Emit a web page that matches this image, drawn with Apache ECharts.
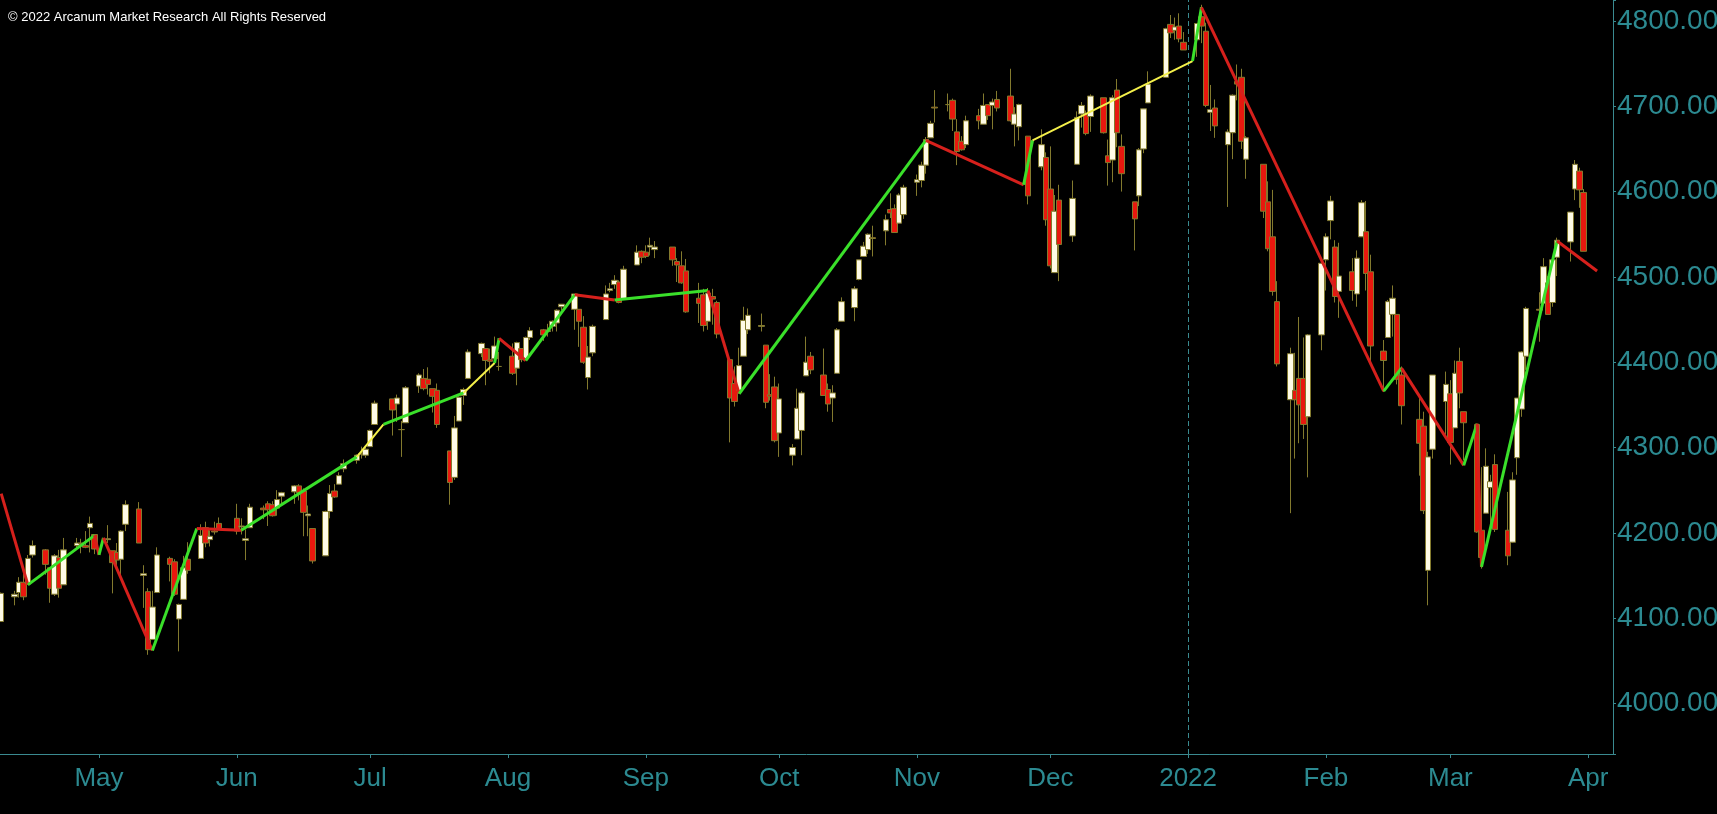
<!DOCTYPE html>
<html>
<head>
<meta charset="utf-8">
<script src="https://cdn.jsdelivr.net/npm/echarts@6/dist/echarts.min.js"></script>
<style>
  html, body { margin: 0; padding: 0; background: #000; overflow: hidden; }
  #chart { width: 1717px; height: 814px; }
</style>
</head>
<body>
<div id="chart"></div>
<script>
// daily S&P 500 candles, one row per month
var tradeDays = [
	'2021-04-09','2021-04-12','2021-04-13','2021-04-14','2021-04-15','2021-04-16','2021-04-19','2021-04-20','2021-04-21','2021-04-22','2021-04-23','2021-04-26','2021-04-27','2021-04-28','2021-04-29','2021-04-30',
	'2021-05-03','2021-05-04','2021-05-05','2021-05-06','2021-05-07','2021-05-10','2021-05-11','2021-05-12','2021-05-13','2021-05-14','2021-05-17','2021-05-18','2021-05-19','2021-05-20','2021-05-21','2021-05-24','2021-05-25','2021-05-26','2021-05-27','2021-05-28',
	'2021-06-01','2021-06-02','2021-06-03','2021-06-04','2021-06-07','2021-06-08','2021-06-09','2021-06-10','2021-06-11','2021-06-14','2021-06-15','2021-06-16','2021-06-17','2021-06-18','2021-06-21','2021-06-22','2021-06-23','2021-06-24','2021-06-25','2021-06-28','2021-06-29','2021-06-30',
	'2021-07-01','2021-07-02','2021-07-06','2021-07-07','2021-07-08','2021-07-09','2021-07-12','2021-07-13','2021-07-14','2021-07-15','2021-07-16','2021-07-19','2021-07-20','2021-07-21','2021-07-22','2021-07-23','2021-07-26','2021-07-27','2021-07-28','2021-07-29','2021-07-30',
	'2021-08-02','2021-08-03','2021-08-04','2021-08-05','2021-08-06','2021-08-09','2021-08-10','2021-08-11','2021-08-12','2021-08-13','2021-08-16','2021-08-17','2021-08-18','2021-08-19','2021-08-20','2021-08-23','2021-08-24','2021-08-25','2021-08-26','2021-08-27','2021-08-30','2021-08-31',
	'2021-09-01','2021-09-02','2021-09-03','2021-09-07','2021-09-08','2021-09-09','2021-09-10','2021-09-13','2021-09-14','2021-09-15','2021-09-16','2021-09-17','2021-09-20','2021-09-21','2021-09-22','2021-09-23','2021-09-24','2021-09-27','2021-09-28','2021-09-29','2021-09-30',
	'2021-10-01','2021-10-04','2021-10-05','2021-10-06','2021-10-07','2021-10-08','2021-10-11','2021-10-12','2021-10-13','2021-10-14','2021-10-15','2021-10-18','2021-10-19','2021-10-20','2021-10-21','2021-10-22','2021-10-25','2021-10-26','2021-10-27','2021-10-28','2021-10-29',
	'2021-11-01','2021-11-02','2021-11-03','2021-11-04','2021-11-05','2021-11-08','2021-11-09','2021-11-10','2021-11-11','2021-11-12','2021-11-15','2021-11-16','2021-11-17','2021-11-18','2021-11-19','2021-11-22','2021-11-23','2021-11-24','2021-11-26','2021-11-29','2021-11-30',
	'2021-12-01','2021-12-02','2021-12-03','2021-12-06','2021-12-07','2021-12-08','2021-12-09','2021-12-10','2021-12-13','2021-12-14','2021-12-15','2021-12-16','2021-12-17','2021-12-20','2021-12-21','2021-12-22','2021-12-23','2021-12-27','2021-12-28','2021-12-29','2021-12-30','2021-12-31',
	'2022-01-03','2022-01-04','2022-01-05','2022-01-06','2022-01-07','2022-01-10','2022-01-11','2022-01-12','2022-01-13','2022-01-14','2022-01-18','2022-01-19','2022-01-20','2022-01-21','2022-01-24','2022-01-25','2022-01-26','2022-01-27','2022-01-28','2022-01-31',
	'2022-02-01','2022-02-02','2022-02-03','2022-02-04','2022-02-07','2022-02-08','2022-02-09','2022-02-10','2022-02-11','2022-02-14','2022-02-15','2022-02-16','2022-02-17','2022-02-18','2022-02-22','2022-02-23','2022-02-24','2022-02-25','2022-02-28',
	'2022-03-01','2022-03-02','2022-03-03','2022-03-04','2022-03-07','2022-03-08','2022-03-09','2022-03-10','2022-03-11','2022-03-14','2022-03-15','2022-03-16','2022-03-17','2022-03-18','2022-03-21','2022-03-22','2022-03-23','2022-03-24','2022-03-25','2022-03-28','2022-03-29','2022-03-30','2022-03-31',
]
var opens = [
	4096,4125,4130,4142,4140,4174,4180,4159,4128,4171,4139,4185,4188,4185,4206,4198,
	4192,4179,4177,4169,4210,4228,4150,4131,4075,4130,4170,4166,4099,4122,4169,4170,4206,4192,4202,4211,
	4217,4207,4191,4206,4229,4234,4233,4229,4243,4248,4255,4249,4220,4205,4173,4225,4249,4257,4275,4285,4293,4291,
	4301,4327,4357,4351,4321,4329,4372,4381,4380,4369,4367,4296,4265,4331,4361,4381,4410,4416,4403,4404,4395,
	4407,4393,4416,4404,4429,4438,4436,4442,4446,4465,4462,4462,4441,4382,4411,4450,4484,4491,4494,4474,4514,4530,
	4529,4535,4532,4535,4518,4513,4507,4475,4479,4448,4477,4470,4403,4375,4367,4407,4438,4442,4420,4362,4371,
	4317,4291,4310,4320,4384,4407,4385,4368,4358,4387,4448,4464,4497,4524,4532,4546,4554,4579,4580,4563,4573,
	4611,4613,4631,4663,4699,4702,4707,4670,4659,4655,4689,4679,4702,4701,4708,4712,4679,4676,4665,4629,4640,
	4603,4505,4590,4548,4632,4691,4691,4688,4710,4642,4637,4719,4653,4588,4595,4650,4704,4734,4796,4789,4794,4775,
	4778,4805,4788,4693,4698,4655,4669,4729,4734,4638,4632,4588,4547,4471,4356,4367,4381,4381,4336,4432,
	4520,4566,4535,4483,4506,4480,4547,4553,4506,4413,4429,4456,4456,4385,4333,4325,4156,4298,4354,
	4363,4323,4401,4342,4327,4203,4223,4253,4280,4203,4189,4288,4345,4407,4462,4469,4493,4470,4523,4541,4603,4624,4599,
]
var highs = [
	4130,4132,4148,4152,4174,4191,4181,4159,4175,4180,4194,4194,4193,4202,4219,4198,
	4209,4179,4188,4203,4238,4236,4162,4135,4132,4183,4172,4169,4117,4173,4189,4210,4213,4203,4213,4218,
	4234,4217,4204,4234,4232,4237,4237,4250,4248,4256,4257,4252,4232,4205,4226,4256,4257,4271,4286,4292,4301,4302,
	4321,4355,4357,4362,4331,4372,4387,4392,4394,4369,4375,4296,4337,4360,4370,4415,4423,4416,4416,4430,4412,
	4422,4424,4416,4430,4441,4439,4445,4449,4462,4468,4480,4462,4454,4419,4444,4490,4493,4502,4496,4513,4537,4531,
	4537,4546,4542,4535,4522,4530,4521,4493,4486,4487,4486,4472,4403,4395,4417,4465,4463,4457,4420,4386,4383,
	4375,4304,4369,4366,4430,4412,4416,4375,4373,4440,4476,4489,4520,4541,4551,4560,4573,4598,4585,4598,4608,
	4620,4635,4664,4683,4719,4715,4709,4685,4665,4689,4697,4715,4702,4709,4718,4744,4699,4703,4665,4673,4646,
	4653,4596,4608,4613,4694,4705,4695,4714,4710,4661,4713,4732,4667,4588,4651,4697,4741,4792,4807,4804,4809,4787,
	4797,4819,4798,4725,4708,4673,4714,4749,4744,4665,4632,4612,4602,4495,4417,4411,4453,4429,4433,4517,
	4551,4595,4543,4540,4522,4531,4590,4589,4526,4426,4473,4490,4456,4395,4362,4342,4295,4385,4389,
	4379,4402,4417,4342,4327,4277,4299,4268,4292,4248,4271,4358,4413,4465,4482,4522,4501,4521,4546,4576,4637,4628,4603,
]
var lows = [
	4096,4115,4124,4121,4140,4171,4151,4118,4126,4124,4139,4182,4176,4182,4177,4175,
	4188,4129,4161,4147,4202,4188,4112,4057,4075,4130,4143,4126,4061,4122,4152,4170,4183,4184,4198,4204,
	4198,4198,4168,4206,4216,4208,4219,4220,4233,4234,4238,4196,4196,4164,4173,4217,4241,4257,4271,4281,4287,4288,
	4301,4327,4314,4330,4289,4329,4364,4367,4362,4341,4323,4233,4262,4331,4350,4381,4406,4373,4387,4404,4390,
	4385,4373,4400,4404,4426,4425,4430,4436,4436,4461,4438,4418,4398,4368,4407,4450,4482,4486,4469,4474,4514,4516,
	4522,4525,4522,4513,4494,4492,4458,4446,4436,4438,4444,4428,4306,4348,4367,4407,4433,4436,4346,4355,4306,
	4289,4279,4310,4291,4384,4386,4361,4342,4330,4387,4448,4448,4496,4524,4527,4524,4537,4569,4552,4563,4568,
	4595,4605,4621,4663,4681,4694,4671,4631,4648,4651,4673,4679,4684,4673,4694,4682,4653,4660,4585,4625,4560,
	4510,4505,4495,4541,4632,4675,4666,4670,4668,4607,4611,4652,4600,4531,4583,4645,4704,4734,4780,4778,4775,4766,
	4758,4774,4699,4671,4663,4582,4638,4707,4650,4615,4569,4530,4478,4395,4223,4287,4305,4310,4265,4414,
	4484,4544,4470,4452,4472,4465,4547,4484,4401,4365,4429,4430,4374,4327,4267,4222,4115,4287,4315,
	4280,4323,4346,4285,4200,4158,4223,4210,4201,4162,4188,4268,4336,4391,4424,4469,4456,4465,4501,4518,4590,4581,4530,
]
var closes = [
	4129,4128,4142,4125,4170,4185,4163,4135,4173,4135,4180,4188,4187,4183,4211,4181,
	4193,4165,4168,4202,4233,4188,4152,4063,4113,4174,4163,4128,4116,4159,4156,4197,4188,4196,4201,4204,
	4202,4208,4193,4230,4227,4227,4220,4239,4247,4255,4247,4224,4222,4167,4225,4246,4242,4267,4281,4291,4292,4298,
	4320,4352,4344,4358,4321,4370,4385,4369,4374,4360,4327,4259,4323,4359,4368,4412,4422,4402,4401,4419,4395,
	4387,4423,4403,4429,4437,4432,4437,4448,4461,4468,4480,4448,4400,4406,4442,4480,4486,4496,4470,4509,4529,4523,
	4524,4537,4535,4520,4514,4493,4459,4469,4443,4481,4474,4433,4358,4354,4396,4449,4455,4443,4353,4360,4308,
	4357,4300,4346,4364,4400,4391,4361,4351,4364,4438,4471,4486,4520,4536,4550,4545,4567,4575,4552,4596,4605,
	4614,4631,4661,4680,4698,4702,4685,4647,4649,4683,4683,4701,4689,4705,4698,4683,4691,4702,4595,4655,4567,
	4513,4577,4538,4592,4687,4701,4668,4712,4669,4634,4710,4669,4621,4568,4649,4697,4726,4791,4786,4793,4779,4766,
	4797,4794,4701,4696,4677,4670,4713,4726,4659,4663,4577,4533,4483,4398,4410,4356,4350,4327,4432,4516,
	4547,4589,4477,4501,4484,4522,4587,4504,4419,4402,4471,4475,4380,4349,4305,4226,4289,4385,4374,
	4306,4387,4364,4329,4201,4171,4278,4260,4204,4173,4262,4358,4412,4463,4461,4512,4456,4520,4543,4576,4632,4602,4530,
]

// swing line: turning points and the colour of each leg (r = down, g = up, y = weak up)
var swingDates = [
	'2021-04-09','2021-04-15','2021-04-30','2021-05-01','2021-05-02','2021-05-13','2021-05-23','2021-06-02',
	'2021-06-28','2021-07-04','2021-07-22','2021-07-29','2021-07-30','2021-08-05','2021-08-16','2021-08-25',
	'2021-09-15','2021-09-22','2021-11-03','2021-11-25','2021-11-27','2022-01-02','2022-01-04','2022-02-14',
	'2022-02-18','2022-03-04','2022-03-07','2022-03-08','2022-03-25','2022-04-03',
]
var swingValues = [
	4246,4139,4197,4174,4194,4062,4205,4203,
	4289,4327,4364,4399,4428,4402,4479,4473,
	4484,4363,4660,4608,4660,4753,4816,4366,
	4393,4279,4328,4160,4542,4507,
]
var swingKinds = ['r','g','r','g','r','g','r','g','y','g','y','g','r','g','r','g','r','g','r','g','y','g','r','g','r','g','r','g','r']

var monthNames = ['Jan','Feb','Mar','Apr','May','Jun','Jul','Aug','Sep','Oct','Nov','Dec']
var yearMark = '2022-01-01'

var axisTeal = '#3a8a90'
var labelTeal = '#2c8a91'

function ts(s) {
	var p = s.split('-').map(Number)
	return new Date(p[0], p[1] - 1, p[2]).getTime()
}

function drawChart() {
	var chartDom = document.getElementById('chart')
	var myChart = echarts.init(chartDom)
	var option

	var candles = []
	for (var i = 0; i < tradeDays.length; i++) {
		candles.push([ts(tradeDays[i]), opens[i], closes[i], lows[i], highs[i]])
	}

	var legColors = { r: '#d6201c', g: '#3ae02a', y: '#f4f04a' }
	var legs = []
	for (var j = 0; j < swingKinds.length; j++) {
		var k = swingKinds[j]
		legs.push({
			coords: [
				[ts(swingDates[j]), swingValues[j]],
				[ts(swingDates[j + 1]), swingValues[j + 1]],
			],
			lineStyle: { color: legColors[k], width: k === 'y' ? 2 : 3, opacity: 1 },
		})
	}

	option = {
		backgroundColor: '#000',
		animation: false,
		title: {
			text: '© 2022 Arcanum Market Research All Rights Reserved',
			left: 8,
			top: 11,
			padding: 0,
			textStyle: {
				color: '#ffffff',
				fontSize: 13,
				fontWeight: 'normal',
				fontFamily: 'Liberation Sans',
			},
		},
		grid: { left: 0, right: 104, top: 0, bottom: 60, outerBoundsMode: 'none', containLabel: false },
		xAxis: {
			type: 'time',
			min: new Date(2021, 3, 8, 17, 30).getTime(),
			max: new Date(2022, 3, 6, 14, 0).getTime(),
			splitNumber: 12,
			minInterval: 28 * 86400000,
			maxInterval: 31 * 86400000,
			axisLine: { lineStyle: { color: axisTeal, width: 1 } },
			axisTick: { show: true, length: 4, lineStyle: { color: axisTeal } },
			splitLine: { show: false },
			axisLabel: {
				color: labelTeal,
				fontSize: 26,
				fontFamily: 'Liberation Sans',
				margin: 12,
				showMinLabel: false,
				showMaxLabel: false,
				formatter: function (val) {
					var d = new Date(val)
					if (d.getDate() !== 1 || d.getHours() !== 0) return ''
					return d.getMonth() === 0 ? String(d.getFullYear()) : monthNames[d.getMonth()]
				},
			},
		},
		yAxis: {
			type: 'value',
			position: 'right',
			min: 3940.7,
			max: 4824.6,
			minInterval: 100,
			maxInterval: 100,
			axisLine: { show: true, lineStyle: { color: axisTeal, width: 1 } },
			axisTick: { show: true, length: 3, lineStyle: { color: axisTeal } },
			splitLine: { show: false },
			axisLabel: {
				color: labelTeal,
				fontSize: 28,
				fontFamily: 'Liberation Sans',
				margin: 4,
				formatter: function (v) {
					return v % 100 === 0 ? v.toFixed(3) : ''
				},
			},
		},
		series: [
			{
				type: 'candlestick',
				data: candles,
				encode: { x: 0, y: [1, 2, 3, 4] },
				barWidth: 6,
				itemStyle: {
					color: '#fffbe6',
					color0: '#e8180e',
					borderColor: '#837a2e',
					borderColor0: '#837a2e',
					borderWidth: 1,
				},
				markLine: {
					silent: true,
					symbol: ['none', 'none'],
					label: { show: false },
					lineStyle: { color: axisTeal, type: [5, 3], width: 1, opacity: 1 },
					data: [{ xAxis: ts(yearMark) }],
				},
			},
			{
				type: 'lines',
				coordinateSystem: 'cartesian2d',
				z: 5,
				silent: true,
				lineStyle: { opacity: 1 },
				data: legs,
			},
		],
	}

	option && myChart.setOption(option)
}

drawChart()
</script>
</body>
</html>
